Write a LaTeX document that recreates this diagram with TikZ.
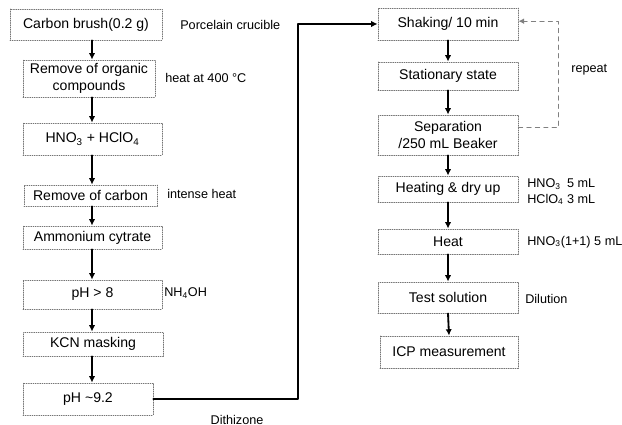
\documentclass[tikz,border=0pt]{standalone}
\usepackage{fontspec}
\setmainfont{Liberation Sans}
\usetikzlibrary{arrows.meta}
\begin{document}
\begin{tikzpicture}[x=0.025cm,y=-0.025cm,line cap=round,line join=round,
  font=\fontsize{10}{12}\selectfont,
  box/.style={draw=black!55,densely dotted,line width=0.6pt,inner sep=0pt,align=center},
  flow/.style={line width=1.3pt,-{Latex[length=4.5pt,width=4.5pt]}},
  loopback/.style={draw=black!50,dashed,line width=0.7pt,-{Latex[length=4pt,width=4pt]}},
  note/.style={anchor=west,inner sep=0pt,font=\fontsize{9}{11}\selectfont}]
  \useasboundingbox (0,0) rectangle (622,425);
  % left column
  \node[box,minimum width=3.8cm,minimum height=0.775cm] (b1) at (86,24.5) {Carbon brush(0.2 g)};
  \node[box,minimum width=3.3cm,minimum height=0.925cm] (b2) at (89,78.5) {Remove of organic\\compounds};
  \node[box,minimum width=3.475cm,minimum height=0.8cm] (b3) at (92.5,139) {HNO\textsubscript{3} + HClO\textsubscript{4}};
  \node[box,minimum width=3.325cm,minimum height=0.525cm] (b4) at (90.5,195.5) {Remove of carbon};
  \node[box,minimum width=3.475cm,minimum height=0.575cm] (b5) at (92.5,237.5) {Ammonium cytrate};
  \node[box,minimum width=3.475cm,minimum height=0.725cm] (b6) at (92.5,294.5) {pH > 8};
  \node[box,minimum width=3.5cm,minimum height=0.6cm] (b7) at (93,344) {KCN masking};
  \node[box,minimum width=3.25cm,minimum height=0.8cm] (b8) at (88,399) {pH \textasciitilde9.2};
  % right column
  \node[box,minimum width=3.5cm,minimum height=0.8cm] (s1) at (448,24) {Shaking/ 10 min};
  \node[box,minimum width=3.5cm,minimum height=0.7cm] (s2) at (448,76) {Stationary state};
  \node[box,minimum width=3.5cm,minimum height=1cm] (s3) at (448,135) {Separation\\/250 mL Beaker};
  \node[box,minimum width=3.5cm,minimum height=0.65cm] (s4) at (448,189) {Heating \& dry up};
  \node[box,minimum width=3.5cm,minimum height=0.625cm] (s5) at (448,241.5) {Heat};
  \node[box,minimum width=3.5cm,minimum height=0.775cm] (s6) at (448,297.5) {Test solution};
  \node[box,minimum width=3.45cm,minimum height=0.8cm] (s7) at (449,352) {ICP measurement};
  % side notes
  \node[note] (n1) at (180,25) {Porcelain crucible};
  \node[note] (n2) at (165,78) {heat at 400 °C};
  \node[note] (n3) at (167,194) {intense heat};
  \node[note] (n4) at (164,293) {NH\textsubscript{4}OH};
  \node[note,align=left] (n5) at (527,192) {HNO\textsubscript{3}\enspace 5 mL\\HClO\textsubscript{4} 3 mL};
  \node[note] (n6) at (527,242) {HNO\textsubscript{3}(1+1) 5 mL};
  \node[note] (n7) at (525,299) {Dilution};
  \node[note] (n8) at (571,70) {repeat};
  \node[note,anchor=center] (n9) at (237,420) {Dithizone};
  % arrows
  \coordinate (lc) at (92,0);
  \coordinate (turn) at (298,0);
  \coordinate (rep) at (558,0);
  \foreach \a/\b in {b1/b2,b2/b3,b3/b4,b4/b5,b5/b6,b6/b7,b7/b8}
    \draw[flow] (\a.south -| lc) -- (\b.north -| lc);
  \foreach \a/\b in {s1/s2,s2/s3,s3/s4,s4/s5,s5/s6,s6/s7}
    \draw[flow] (\a.south) -- (\b.north);
  \draw[flow,line width=1.5pt] (b8.east) -- (b8.east -| turn) |- (s1.west);
  \draw[loopback] ([yshift=5pt]s3.east) -- ([yshift=5pt]s3.east -| rep) |- ([yshift=2pt]s1.east);
\end{tikzpicture}
\end{document}
